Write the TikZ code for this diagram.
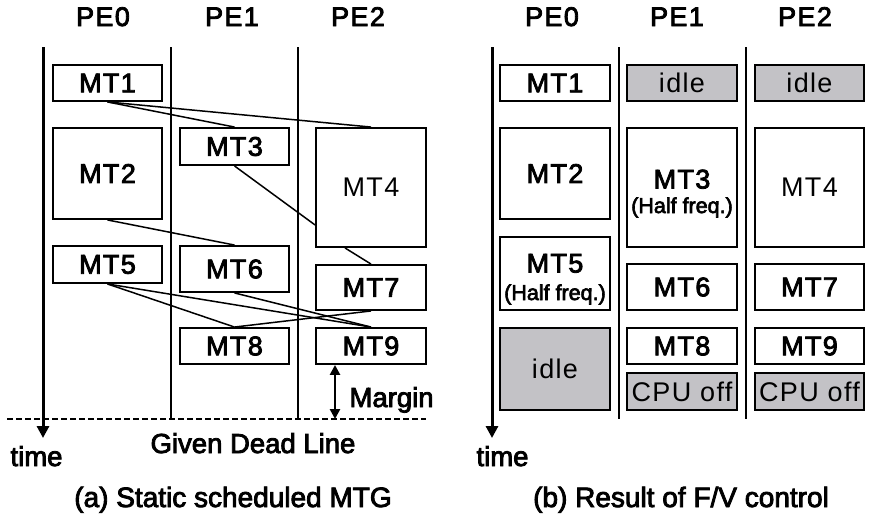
\documentclass[tikz,border=0pt]{standalone}
\usepackage{fontspec}
\setmainfont{Liberation Sans}
\newfontfamily\heavy{Liberation Sans}[FakeBold=3]
\newfontfamily\heavyspaced{Liberation Sans}[FakeBold=3, LetterSpace=5]
\newfontfamily\lightspaced{Liberation Sans}[LetterSpace=5]
\usetikzlibrary{arrows.meta}
\definecolor{idlegray}{RGB}{195,194,198}
\begin{document}
\begin{tikzpicture}[x=1pt,y=-1pt,
  task/.style={draw, line width=1.9pt, inner sep=0pt, align=center,
    font=\heavyspaced\fontsize{27}{27}\selectfont},
  plaintask/.style={task, font=\lightspaced\fontsize{27}{27}\selectfont},
  idlebox/.style={task, fill=idlegray, font=\lightspaced\fontsize{27}{27}\selectfont},
  tasktext/.style={font=\heavyspaced\fontsize{27}{27}\selectfont, anchor=base, inner sep=0pt},
  notetext/.style={font=\heavy\fontsize{21.5}{21.5}\selectfont, anchor=base, inner sep=0pt},
  head/.style={font=\heavyspaced\fontsize{27}{28}\selectfont, anchor=base},
  lbl/.style={font=\heavy\fontsize{27.5}{28}\selectfont, anchor=base},
  capt/.style={font=\heavy\fontsize{28}{30}\selectfont, anchor=base},
  pe/.style={line width=1.5pt},
  axis/.style={line width=3pt, -{Triangle[length=12pt,width=12pt]}},
  dep/.style={line width=1.5pt},
  margin/.style={line width=2.6pt, {Triangle[length=10pt,width=10pt]}-{Triangle[length=10pt,width=10pt]}},
  deadline/.style={line width=1.6pt, dash pattern=on 6pt off 3pt}
]
\useasboundingbox (0,0) rectangle (869,520);

% ---------- (a) static schedule ----------
\node[head] (ha0) at (103,26) {PE0};
\node[head] (ha1) at (232,26) {PE1};
\node[head] (ha2) at (358,26) {PE2};

\coordinate (ta0) at (43,47);   \coordinate (ta1) at (43,438);
\coordinate (pa1t) at (171,47); \coordinate (pa1b) at (171,419);
\coordinate (pa2t) at (298,47); \coordinate (pa2b) at (298,419);
\draw[axis] (ta0) -- (ta1);
\draw[pe] (pa1t) -- (pa1b);
\draw[pe] (pa2t) -- (pa2b);

\node[task, minimum width=109pt, minimum height=36pt]  (a1) at (107.5,83)    {MT1};
\node[task, minimum width=109pt, minimum height=91pt]  (a2) at (107.5,173.5) {MT2};
\node[task, minimum width=109pt, minimum height=37pt]  (a3) at (234.5,146.5) {MT3};
\node[plaintask, minimum width=110pt, minimum height=119pt] (a4) at (371,187.5) {MT4};
\node[task, minimum width=109pt, minimum height=37pt]  (a5) at (107.5,264.5) {MT5};
\node[task, minimum width=109pt, minimum height=46pt]  (a6) at (234.5,269)   {MT6};
\node[task, minimum width=110pt, minimum height=45pt]  (a7) at (371,287.5)   {MT7};
\node[task, minimum width=109pt, minimum height=36pt]  (a8) at (234.5,346)   {MT8};
\node[task, minimum width=110pt, minimum height=36pt]  (a9) at (371,346)     {MT9};

% dependencies between macro tasks
\draw[dep] (a1.south) -- (a3.north);
\draw[dep] (a1.south) -- (a4.north);
\draw[dep] (a3.south) -- ([yshift=23pt]a4.south west);
\draw[dep] (a2.south) -- (a6.north);
\draw[dep] ([xshift=-26pt]a4.south) -- (a7.north);
\draw[dep] (a5.south) -- (a8.north);
\draw[dep] (a5.south) -- (a9.north);
\draw[dep] (a6.south) -- (a9.north);
\draw[dep] (a7.south) -- (a8.north);

% deadline and margin
\coordinate (dl0) at (7,419);
\coordinate (dl1) at (426,419);
\draw[deadline] (dl0) -- (dl1);
\coordinate (mg) at (335,419);
\draw[margin] ([xshift=-36pt]a9.south) -- (mg);
\node[lbl, anchor=base west] (mgl) at (346,407) {Margin};
\node[lbl] (gdl) at (253,453) {Given Dead Line};
\node[lbl, anchor=base west] (tma) at (7,466) {time};
\node[capt] (capa) at (233,507) {(a) Static scheduled MTG};

% ---------- (b) after frequency/voltage control ----------
\node[head] (hb0) at (552,26) {PE0};
\node[head] (hb1) at (677,26) {PE1};
\node[head] (hb2) at (805,26) {PE2};

\coordinate (tb0) at (492,47);  \coordinate (tb1) at (492,438);
\coordinate (pb1t) at (619,47); \coordinate (pb1b) at (619,419);
\coordinate (pb2t) at (746,47); \coordinate (pb2b) at (746,419);
\draw[axis] (tb0) -- (tb1);
\draw[pe] (pb1t) -- (pb1b);
\draw[pe] (pb2t) -- (pb2b);

\node[task, minimum width=110pt, minimum height=36pt]  (b1) at (555,83)     {MT1};
\node[idlebox, minimum width=110pt, minimum height=36pt] (bi1) at (682,83)  {idle};
\node[idlebox, minimum width=109pt, minimum height=36pt] (bi2) at (809.5,83) {idle};
\node[task, minimum width=110pt, minimum height=91pt]  (b2) at (555,173.5)  {MT2};
\node[task, minimum width=110pt, minimum height=119pt] (b3) at (682,187.5)  {};
\node[tasktext] (b3t) at ([yshift=-1pt]b3.center) {MT3};
\node[notetext] (b3n) at ([yshift=-25.5pt]b3.center) {(Half freq.)};
\node[plaintask, minimum width=109pt, minimum height=119pt] (b4) at (809.5,187.5) {MT4};
\node[task, minimum width=110pt, minimum height=73pt]  (b5) at (555,273.5)  {};
\node[tasktext] (b5t) at ([yshift=1pt]b5.center) {MT5};
\node[notetext] (b5n) at ([yshift=-26.5pt]b5.center) {(Half freq.)};
\node[task, minimum width=110pt, minimum height=46pt]  (b6) at (682,287)    {MT6};
\node[task, minimum width=109pt, minimum height=46pt]  (b7) at (809.5,287)  {MT7};
\node[idlebox, minimum width=110pt, minimum height=82pt] (bi0) at (555,369) {idle};
\node[task, minimum width=110pt, minimum height=36pt]  (b8) at (682,346)    {MT8};
\node[task, minimum width=109pt, minimum height=36pt]  (b9) at (809.5,346)  {MT9};
\node[idlebox, minimum width=110pt, minimum height=37pt] (bo1) at (682,391.5) {CPU off};
\node[idlebox, minimum width=109pt, minimum height=37pt] (bo2) at (809.5,391.5) {CPU off};

\node[lbl, anchor=base west] (tmb) at (473,466) {time};
\node[capt] (capb) at (681,507) {(b) Result of F/V control};
\end{tikzpicture}
\end{document}
